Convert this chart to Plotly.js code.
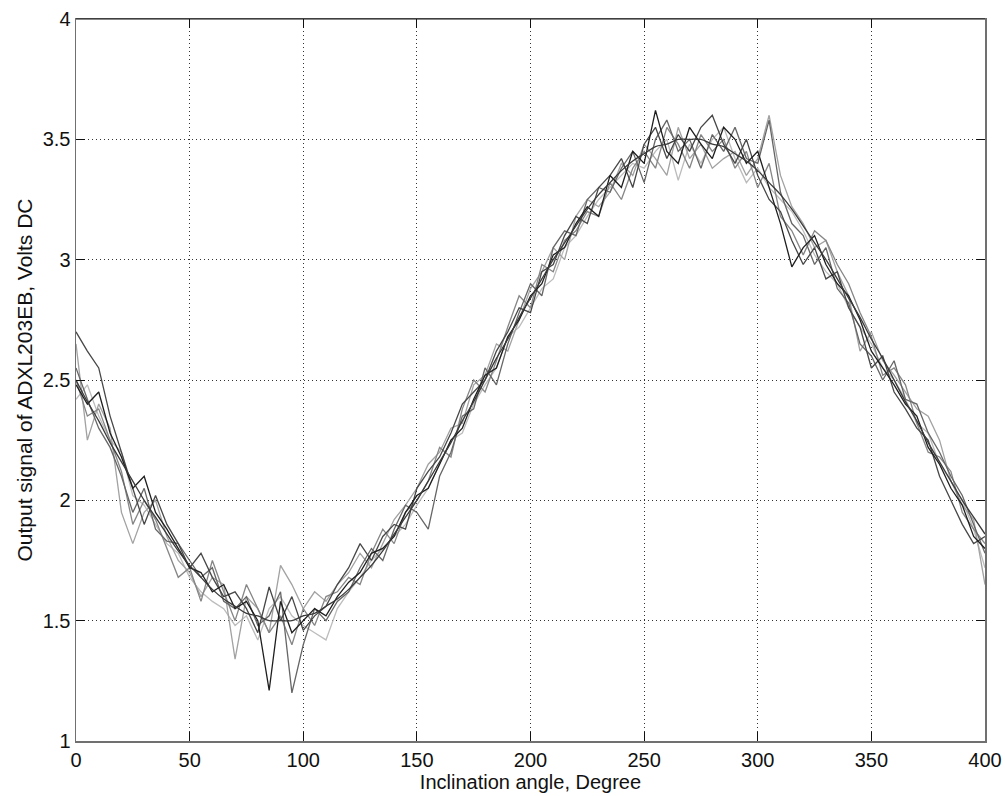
<!DOCTYPE html>
<html>
<head>
<meta charset="utf-8">
<script src="https://cdn.plot.ly/plotly-3.0.1.min.js"></script>
<style>html,body{margin:0;padding:0;background:#fff;}#chart{width:1005px;height:796px;}</style>
</head>
<body>
<div id="chart"></div>
<script>
// Inclination angle, degrees (sampled every 5 degrees)
const angles = [0,5,10,15,20,25,30,35,40,45,50,55,60,65,70,75,80,85,90,95,100,105,110,115,120,125,130,135,140,145,150,155,160,165,170,175,180,185,190,195,200,205,210,215,220,225,230,235,240,245,250,255,260,265,270,275,280,285,290,295,300,305,310,315,320,325,330,335,340,345,350,355,360,365,370,375,380,385,390,395,400];

// Smooth reference curve
const smoothCurve = [2.50,2.41,2.33,2.24,2.16,2.08,2.00,1.93,1.86,1.79,1.73,1.68,1.63,1.59,1.56,1.53,1.52,1.50,1.50,1.50,1.52,1.53,1.56,1.59,1.63,1.68,1.73,1.79,1.86,1.93,2.00,2.08,2.16,2.24,2.33,2.41,2.50,2.59,2.67,2.76,2.84,2.92,3.00,3.07,3.14,3.21,3.27,3.32,3.37,3.41,3.44,3.47,3.48,3.50,3.50,3.50,3.48,3.47,3.44,3.41,3.37,3.32,3.27,3.21,3.14,3.07,3.00,2.92,2.84,2.76,2.67,2.59,2.50,2.41,2.33,2.24,2.16,2.08,2.00,1.93,1.86];

// Measured runs (noisy)
const run1 = [2.48,2.40,2.45,2.28,2.18,2.05,2.10,1.95,1.88,1.80,1.72,1.70,1.62,1.65,1.55,1.58,1.50,1.21,1.58,1.45,1.50,1.55,1.52,1.60,1.66,1.70,1.78,1.80,1.85,1.95,2.02,2.05,2.15,2.25,2.30,2.42,2.52,2.55,2.68,2.75,2.85,2.90,3.02,3.05,3.15,3.22,3.18,3.35,3.30,3.45,3.40,3.62,3.45,3.40,3.55,3.48,3.42,3.55,3.50,3.40,3.45,3.30,3.15,2.97,3.05,3.10,2.98,2.90,2.85,2.75,2.62,2.55,2.48,2.40,2.35,2.22,2.15,2.05,1.98,1.85,1.80];
const run2 = [2.70,2.62,2.55,2.35,2.20,2.05,1.90,2.02,1.90,1.82,1.72,1.78,1.68,1.60,1.62,1.55,1.45,1.64,1.50,1.60,1.46,1.52,1.56,1.65,1.72,1.82,1.75,1.85,1.90,1.88,2.05,2.12,2.18,2.28,2.40,2.45,2.50,2.62,2.70,2.80,2.78,2.95,2.98,3.10,3.18,3.15,3.30,3.35,3.42,3.30,3.48,3.55,3.42,3.52,3.45,3.55,3.60,3.48,3.40,3.50,3.35,3.25,3.20,3.08,2.98,3.05,2.92,2.95,2.80,2.72,2.55,2.60,2.45,2.38,2.30,2.25,2.10,2.00,1.90,1.82,1.85];
const run3 = [2.55,2.42,2.30,2.22,2.10,1.95,2.05,1.88,1.83,1.82,1.75,1.68,1.72,1.58,1.55,1.60,1.48,1.52,1.62,1.20,1.40,1.55,1.50,1.58,1.62,1.72,1.80,1.75,1.88,1.98,1.95,1.88,2.10,2.20,2.35,2.38,2.55,2.48,2.65,2.78,2.90,2.85,3.05,3.12,3.10,3.25,3.30,3.28,3.38,3.45,3.32,3.50,3.58,3.45,3.50,3.38,3.52,3.45,3.55,3.42,3.40,3.58,3.28,3.15,3.10,2.98,3.05,2.88,2.82,2.65,2.60,2.50,2.58,2.42,2.40,2.28,2.20,2.10,2.02,1.90,1.78];
const run4 = [2.50,2.35,2.38,2.25,2.12,1.90,2.00,1.92,1.80,1.68,1.72,1.58,1.75,1.62,1.50,1.65,1.55,1.45,1.52,1.40,1.55,1.48,1.60,1.62,1.68,1.65,1.78,1.88,1.82,1.95,2.00,2.08,2.22,2.18,2.38,2.50,2.45,2.58,2.72,2.85,2.80,2.98,2.95,3.08,3.12,3.20,3.18,3.32,3.25,3.38,3.45,3.38,3.55,3.48,3.38,3.52,3.45,3.50,3.38,3.45,3.30,3.40,3.18,3.12,3.02,3.12,3.08,2.98,2.90,2.78,2.68,2.52,2.55,2.48,2.32,2.20,2.18,2.12,1.95,1.88,1.82];
const run5 = [2.65,2.25,2.40,2.30,1.95,1.82,1.95,2.00,1.85,1.75,1.70,1.60,1.68,1.65,1.34,1.60,1.55,1.45,1.73,1.65,1.55,1.62,1.58,1.65,1.70,1.78,1.72,1.82,1.92,1.98,2.05,2.15,2.20,2.30,2.32,2.48,2.52,2.65,2.62,2.75,2.88,2.95,3.05,3.00,3.18,3.25,3.22,3.28,3.40,3.35,3.48,3.42,3.35,3.55,3.42,3.48,3.38,3.42,3.45,3.35,3.42,3.60,3.35,3.22,3.15,3.05,3.08,2.95,2.85,2.62,2.70,2.58,2.52,2.45,2.38,2.35,2.25,2.08,1.98,1.92,1.65];
const run6 = [2.42,2.48,2.35,2.25,2.20,2.02,1.98,1.90,1.82,1.78,1.68,1.62,1.58,1.55,1.48,1.52,1.42,1.55,1.60,1.52,1.48,1.45,1.42,1.55,1.62,1.68,1.75,1.80,1.85,1.90,1.98,2.05,2.15,2.25,2.28,2.40,2.48,2.55,2.68,2.72,2.80,2.88,2.92,3.05,3.10,3.18,3.25,3.30,3.35,3.40,3.38,3.45,3.50,3.33,3.48,3.40,3.50,3.55,3.42,3.32,3.38,3.30,3.25,3.20,3.12,3.02,2.95,2.90,2.80,2.72,2.65,2.55,2.50,2.42,2.32,2.28,2.15,2.08,2.00,1.88,1.72];

const xTicks = [0,50,100,150,200,250,300,350,400];
const yTicks = [1,1.5,2,2.5,3,3.5,4];
const yTickText = ['1','1.5','2','2.5','3','3.5','4'];

const runs = [run6, run5, run4, run3, run2, run1];
const runColors = ['#bcbcbc', '#a2a2a2', '#868686', '#666666', '#474747', '#1e1e1e'];

const traces = runs.map((r, i) => ({
  x: angles, y: r, type: 'scatter', mode: 'lines',
  line: {color: runColors[i], width: 1.3},
  hoverinfo: 'skip', showlegend: false
}));
traces.push({
  x: angles, y: smoothCurve, type: 'scatter', mode: 'lines',
  line: {color: '#3a3a3a', width: 1.3, shape: 'spline'},
  hoverinfo: 'skip', showlegend: false
});

const FONT = 'Liberation Sans, Arial, sans-serif';
const axisCommon = {
  showline: true, linecolor: '#707070', linewidth: 1.5, mirror: 'ticks',
  ticks: 'inside', ticklen: 9, tickcolor: '#111', tickwidth: 1,
  showgrid: true, gridcolor: '#333', griddash: '1px,3px', gridwidth: 1,
  zeroline: false,
  tickfont: {family: FONT, size: 20, color: '#111'}
};

const layout = {
  width: 1005, height: 796,
  margin: {l: 76, r: 20, t: 19, b: 55},
  paper_bgcolor: '#fff', plot_bgcolor: '#fff',
  xaxis: Object.assign({}, axisCommon, {
    range: [0, 400], tickvals: xTicks,
    title: {text: 'Inclination angle, Degree', standoff: 2,
      font: {family: FONT, size: 20, color: '#111'}}
  }),
  yaxis: Object.assign({}, axisCommon, {
    range: [1, 4], tickvals: yTicks, ticktext: yTickText,
    title: {text: 'Output signal of ADXL203EB, Volts DC', standoff: 4,
      font: {family: FONT, size: 21, color: '#111'}}
  }),
  shapes: [{type: 'line', xref: 'paper', yref: 'paper', x0: 0, x1: 1, y0: 1, y1: 1,
    line: {color: '#111', width: 1.2}}]
};

Plotly.newPlot('chart', traces, layout, {displayModeBar: false, staticPlot: true});
</script>
</body>
</html>
